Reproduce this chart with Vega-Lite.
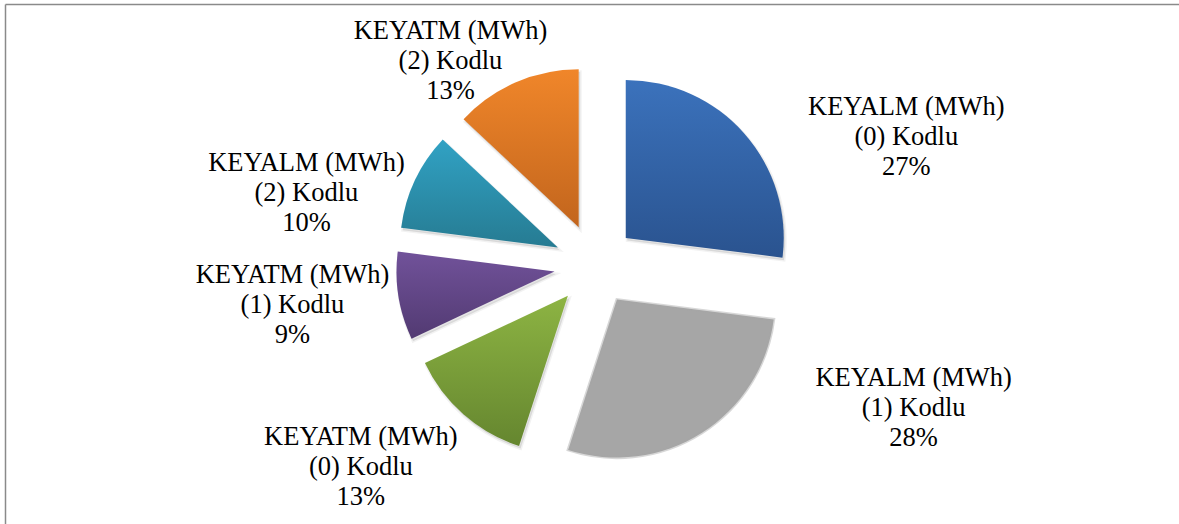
{
  "$schema": "https://vega.github.io/schema/vega-lite/v6.json",
  "width": 1174,
  "height": 520,
  "autosize": {"type": "none"},
  "padding": {"left": 5, "top": 4, "right": 0, "bottom": 0},
  "background": "white",
  "config": {
    "view": {"stroke": null}
  },
  "data": {
    "values": [
      {"series": "KEYALM (MWh)", "code": "(0) Kodlu", "value": 27},
      {"series": "KEYALM (MWh)", "code": "(1) Kodlu", "value": 28},
      {"series": "KEYATM (MWh)", "code": "(0) Kodlu", "value": 13},
      {"series": "KEYATM (MWh)", "code": "(1) Kodlu", "value": 9},
      {"series": "KEYALM (MWh)", "code": "(2) Kodlu", "value": 10},
      {"series": "KEYATM (MWh)", "code": "(2) Kodlu", "value": 13}
    ]
  },
  "transform": [
    {"window": [{"op": "sum", "field": "value", "as": "cum"}], "frame": [null, 0]},
    {"joinaggregate": [{"op": "sum", "field": "value", "as": "total"}]},
    {"calculate": "(datum.cum - datum.value) / datum.total", "as": "a0"},
    {"calculate": "datum.cum / datum.total", "as": "a1"},
    {"calculate": "2 * PI * (datum.cum - datum.value / 2) / datum.total", "as": "mid"},
    {"calculate": "41 * sin(datum.mid)", "as": "ex"},
    {"calculate": "41 * cos(datum.mid)", "as": "ey"},
    {"calculate": "199 * sin(datum.mid)", "as": "lx"},
    {"calculate": "199 * cos(datum.mid)", "as": "ly"},
    {"calculate": "datum.series + '\\n' + datum.code + '\\n' + datum.value + '%'", "as": "label"}
  ],
  "encoding": {
    "x": {"field": "ex", "type": "quantitative", "title": null, "scale": {"domain": [-590, 584], "nice": false, "zero": false}, "axis": {"orient": "top", "domainColor": "#8a8a8a", "domainWidth": 1.5, "ticks": false, "labels": false, "grid": false, "title": null}},
    "y": {"field": "ey", "type": "quantitative", "title": null, "scale": {"domain": [-259, 261], "nice": false, "zero": false}, "axis": {"orient": "left", "domainColor": "#8a8a8a", "domainWidth": 1.5, "ticks": false, "labels": false, "grid": false, "title": null}}
  },
  "layer": [
    {
      "transform": [{"filter": "datum.value !== 28"}],
      "mark": {"type": "arc", "outerRadius": 158, "fill": "#000000", "fillOpacity": 0.1, "stroke": "#000000", "strokeOpacity": 0.05, "strokeWidth": 3, "xOffset": 1.5, "yOffset": 2.5},
      "encoding": {
        "theta": {"field": "a0", "type": "quantitative", "stack": null, "scale": {"domain": [0, 1], "range": [0, 6.283185307179586]}},
        "theta2": {"field": "a1"}
      }
    },
    {
      "transform": [{"filter": "datum.series === 'KEYALM (MWh)' && datum.code === '(0) Kodlu'"}],
      "layer": [
        {
          "mark": {"type": "arc", "outerRadius": 158, "fill": {"gradient": "linear", "x1": 0, "y1": 0, "x2": 0, "y2": 1, "stops": [{"offset": 0, "color": "#3B72BC"}, {"offset": 1, "color": "#2A538F"}]}},
          "encoding": {
            "theta": {"field": "a0", "type": "quantitative", "stack": null},
            "theta2": {"field": "a1"}
          }
        },
        {
          "mark": {"type": "text", "font": "Liberation Serif", "fontSize": 26.5, "lineHeight": 30, "lineBreak": "\n", "align": "center", "baseline": "alphabetic", "color": "black", "dx": 162, "dy": -18.5},
          "encoding": {
            "x": {"field": "lx", "type": "quantitative", "title": null},
            "y": {"field": "ly", "type": "quantitative", "title": null},
            "text": {"field": "label", "type": "nominal"}
          }
        }
      ]
    },
    {
      "transform": [{"filter": "datum.series === 'KEYALM (MWh)' && datum.code === '(1) Kodlu'"}],
      "layer": [
        {
          "mark": {"type": "arc", "outerRadius": 158, "fill": "#A6A6A6", "stroke": "#A6A6A6", "strokeWidth": 3, "strokeOpacity": 0.45},
          "encoding": {
            "theta": {"field": "a0", "type": "quantitative", "stack": null},
            "theta2": {"field": "a1"}
          }
        },
        {
          "mark": {"type": "text", "font": "Liberation Serif", "fontSize": 26.5, "lineHeight": 30, "lineBreak": "\n", "align": "center", "baseline": "alphabetic", "color": "black", "dx": 212, "dy": -47},
          "encoding": {
            "x": {"field": "lx", "type": "quantitative", "title": null},
            "y": {"field": "ly", "type": "quantitative", "title": null},
            "text": {"field": "label", "type": "nominal"}
          }
        }
      ]
    },
    {
      "transform": [{"filter": "datum.series === 'KEYATM (MWh)' && datum.code === '(0) Kodlu'"}],
      "layer": [
        {
          "mark": {"type": "arc", "outerRadius": 158, "fill": {"gradient": "linear", "x1": 0, "y1": 0, "x2": 0, "y2": 1, "stops": [{"offset": 0, "color": "#8DB443"}, {"offset": 1, "color": "#65862F"}]}},
          "encoding": {
            "theta": {"field": "a0", "type": "quantitative", "stack": null},
            "theta2": {"field": "a1"}
          }
        },
        {
          "mark": {"type": "text", "font": "Liberation Serif", "fontSize": 26.5, "lineHeight": 30, "lineBreak": "\n", "align": "center", "baseline": "alphabetic", "color": "black", "dx": -102.5, "dy": 31},
          "encoding": {
            "x": {"field": "lx", "type": "quantitative", "title": null},
            "y": {"field": "ly", "type": "quantitative", "title": null},
            "text": {"field": "label", "type": "nominal"}
          }
        }
      ]
    },
    {
      "transform": [{"filter": "datum.series === 'KEYATM (MWh)' && datum.code === '(1) Kodlu'"}],
      "layer": [
        {
          "mark": {"type": "arc", "outerRadius": 158, "fill": {"gradient": "linear", "x1": 0, "y1": 0, "x2": 0, "y2": 1, "stops": [{"offset": 0, "color": "#71529A"}, {"offset": 1, "color": "#523A72"}]}},
          "encoding": {
            "theta": {"field": "a0", "type": "quantitative", "stack": null},
            "theta2": {"field": "a1"}
          }
        },
        {
          "mark": {"type": "text", "font": "Liberation Serif", "fontSize": 26.5, "lineHeight": 30, "lineBreak": "\n", "align": "center", "baseline": "alphabetic", "color": "black", "dx": -106, "dy": -13},
          "encoding": {
            "x": {"field": "lx", "type": "quantitative", "title": null},
            "y": {"field": "ly", "type": "quantitative", "title": null},
            "text": {"field": "label", "type": "nominal"}
          }
        }
      ]
    },
    {
      "transform": [{"filter": "datum.series === 'KEYALM (MWh)' && datum.code === '(2) Kodlu'"}],
      "layer": [
        {
          "mark": {"type": "arc", "outerRadius": 158, "fill": {"gradient": "linear", "x1": 0, "y1": 0, "x2": 0, "y2": 1, "stops": [{"offset": 0, "color": "#31A2C4"}, {"offset": 1, "color": "#267B92"}]}},
          "encoding": {
            "theta": {"field": "a0", "type": "quantitative", "stack": null},
            "theta2": {"field": "a1"}
          }
        },
        {
          "mark": {"type": "text", "font": "Liberation Serif", "fontSize": 26.5, "lineHeight": 30, "lineBreak": "\n", "align": "center", "baseline": "alphabetic", "color": "black", "dx": -108.5, "dy": -9.5},
          "encoding": {
            "x": {"field": "lx", "type": "quantitative", "title": null},
            "y": {"field": "ly", "type": "quantitative", "title": null},
            "text": {"field": "label", "type": "nominal"}
          }
        }
      ]
    },
    {
      "transform": [{"filter": "datum.series === 'KEYATM (MWh)' && datum.code === '(2) Kodlu'"}],
      "layer": [
        {
          "mark": {"type": "arc", "outerRadius": 158, "fill": {"gradient": "linear", "x1": 0, "y1": 0, "x2": 0, "y2": 1, "stops": [{"offset": 0, "color": "#F0862A"}, {"offset": 1, "color": "#C2651D"}]}},
          "encoding": {
            "theta": {"field": "a0", "type": "quantitative", "stack": null},
            "theta2": {"field": "a1"}
          }
        },
        {
          "mark": {"type": "text", "font": "Liberation Serif", "fontSize": 26.5, "lineHeight": 30, "lineBreak": "\n", "align": "center", "baseline": "alphabetic", "color": "black", "dx": -65.5, "dy": -43},
          "encoding": {
            "x": {"field": "lx", "type": "quantitative", "title": null},
            "y": {"field": "ly", "type": "quantitative", "title": null},
            "text": {"field": "label", "type": "nominal"}
          }
        }
      ]
    }
  ]
}
